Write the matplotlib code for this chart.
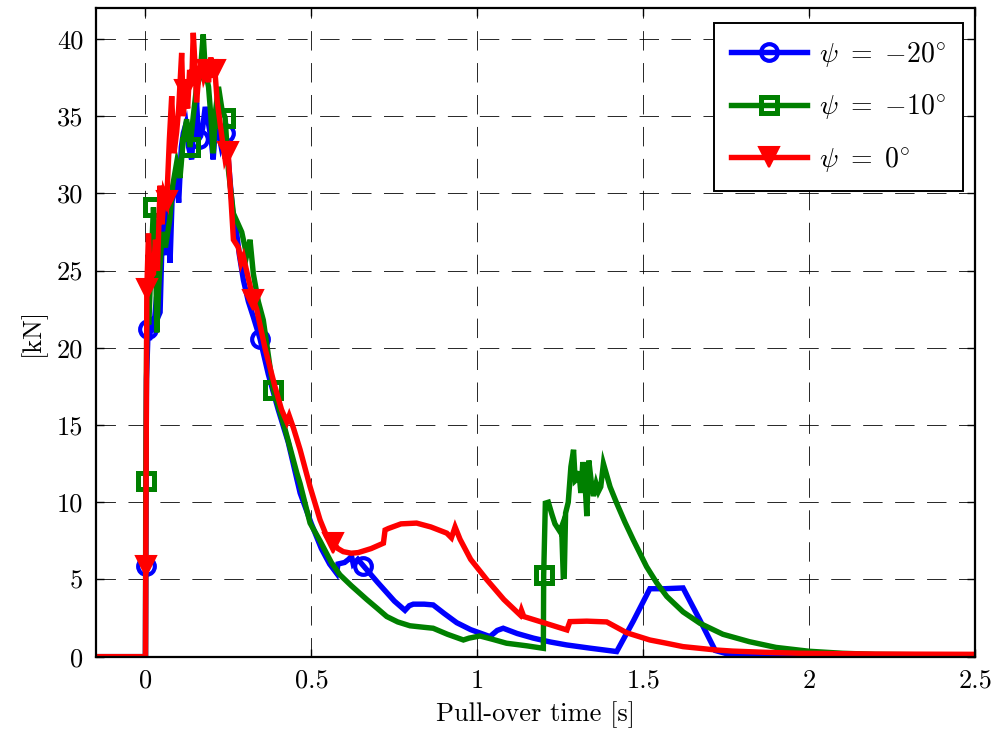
import numpy as np
import matplotlib
matplotlib.use("Agg")
import matplotlib.pyplot as plt

plt.rcParams["font.family"] = "cmr10"
plt.rcParams["mathtext.fontset"] = "cm"
plt.rcParams["axes.formatter.use_mathtext"] = True
plt.rcParams["axes.unicode_minus"] = False
plt.rcParams["lines.scale_dashes"] = False

# ---- pull-over force histories ------------------------------------------
t_m20 = [-0.15, 0.0, 0.0008, 0.003, 0.008, 0.012, 0.018, 0.024, 0.03, 0.038, 0.044,
         0.05, 0.056, 0.062, 0.068, 0.074, 0.08, 0.088, 0.094, 0.1, 0.108, 0.114,
         0.122, 0.13, 0.139, 0.146, 0.154, 0.16, 0.166, 0.172, 0.18, 0.19, 0.198,
         0.204, 0.212, 0.22, 0.228, 0.24, 0.248, 0.258, 0.264, 0.272, 0.283, 0.295,
         0.31, 0.325, 0.345, 0.37, 0.4, 0.43, 0.466, 0.5, 0.53, 0.555, 0.576, 0.58,
         0.6, 0.612, 0.621, 0.626, 0.64, 0.656, 0.7, 0.75, 0.782, 0.795, 0.807,
         0.84, 0.867, 0.9, 0.938, 0.98, 1.038, 1.06, 1.078, 1.12, 1.169, 1.22,
         1.269, 1.34, 1.42, 1.47, 1.52, 1.565, 1.62, 1.67, 1.717, 1.75, 1.9, 2.2, 2.5]
f_m20 = [0.0, 0.0, 5.9, 18.0, 21.2, 20.5, 22.0, 21.0, 22.5, 22.0, 22.3,
         27.0, 28.5, 26.0, 29.0, 25.5, 29.5, 30.5, 31.1, 29.4, 33.0, 33.9,
         34.5, 33.0, 32.2, 34.5, 35.9, 33.5, 33.7, 34.2, 35.6, 34.5, 33.5,
         32.2, 34.8, 34.0, 33.05, 33.9, 32.6, 30.0, 28.5, 27.9, 26.0, 24.4,
         23.0, 22.0, 20.6, 18.3, 16.0, 13.9, 10.6, 8.6, 7.0, 6.0, 5.4, 6.0,
         6.1, 6.3, 6.5, 6.0, 6.3, 5.9, 4.8, 3.6, 3.0, 3.3, 3.4,
         3.4, 3.35, 2.8, 2.2, 1.75, 1.3, 1.7, 1.84, 1.5, 1.2, 0.95,
         0.76, 0.55, 0.33, 2.3, 4.4, 4.4, 4.45, 2.4, 0.4, 0.2, 0.12, 0.1, 0.1]

t_m10 = [-0.15, 0.0, 0.0008, 0.004, 0.01, 0.016, 0.024, 0.03, 0.034, 0.04, 0.05,
         0.06, 0.073, 0.082, 0.094, 0.104, 0.114, 0.124, 0.134, 0.144, 0.154,
         0.164, 0.174, 0.18, 0.19, 0.197, 0.204, 0.212, 0.22, 0.23, 0.24, 0.25,
         0.265, 0.29, 0.305, 0.315, 0.325, 0.34, 0.355, 0.385, 0.421, 0.456,
         0.466, 0.496, 0.526, 0.56, 0.586, 0.62, 0.667, 0.7, 0.727, 0.76, 0.797,
         0.84, 0.867, 0.91, 0.958, 0.975, 1.008, 1.05, 1.088, 1.15, 1.199, 1.2,
         1.205, 1.214, 1.225, 1.234, 1.249, 1.254, 1.259, 1.262, 1.266, 1.274,
         1.282, 1.29, 1.295, 1.3, 1.306, 1.312, 1.318, 1.325, 1.33, 1.336, 1.343,
         1.35, 1.358, 1.365, 1.372, 1.38, 1.4, 1.42, 1.445, 1.47, 1.51, 1.54,
         1.571, 1.62, 1.671, 1.74, 1.82, 1.9, 2.0, 2.1, 2.2, 2.35, 2.5]
f_m10 = [0.0, 0.0, 11.4, 22.0, 21.5, 25.0, 29.1, 27.0, 21.0, 24.0, 27.5,
         26.5, 28.3, 30.5, 32.0, 31.0, 33.5, 34.8, 33.0, 35.0, 36.9,
         37.5, 40.3, 38.0, 36.9, 35.0, 32.6, 35.5, 36.9, 35.5, 34.9, 31.5,
         28.7, 27.5, 26.0, 27.0, 24.8, 23.0, 21.8, 17.3, 14.7, 11.9,
         11.2, 8.65, 7.5, 6.1, 5.3, 4.6, 3.7, 3.1, 2.6, 2.25, 2.0,
         1.9, 1.84, 1.45, 1.08, 1.2, 1.34, 1.1, 0.87, 0.7, 0.54, 5.3,
         9.94, 10.0, 9.2, 8.6, 8.1, 8.4, 5.2, 5.2, 9.3, 10.0,
         12.3, 13.4, 11.4, 11.5, 12.0, 10.6, 12.6, 11.1, 9.1, 12.7, 11.4,
         10.4, 11.2, 10.7, 11.0, 12.5, 11.0, 9.94, 8.7, 7.56, 5.83, 4.8,
         3.9, 2.9, 2.16, 1.45, 0.97, 0.6, 0.35, 0.22, 0.15, 0.12, 0.12]

t_0 = [-0.15, 0.0, 0.0008, 0.004, 0.009, 0.014, 0.024, 0.03, 0.036, 0.044, 0.05,
       0.056, 0.064, 0.072, 0.079, 0.086, 0.094, 0.1, 0.109, 0.114, 0.12, 0.127,
       0.133, 0.139, 0.144, 0.15, 0.154, 0.16, 0.168, 0.176, 0.184, 0.19, 0.197,
       0.203, 0.209, 0.216, 0.23, 0.24, 0.249, 0.258, 0.265, 0.28, 0.288, 0.295,
       0.31, 0.325, 0.335, 0.36, 0.39, 0.41, 0.426, 0.433, 0.446, 0.466, 0.496,
       0.526, 0.546, 0.566, 0.58, 0.596, 0.62, 0.641, 0.68, 0.717, 0.722, 0.732,
       0.77, 0.817, 0.86, 0.908, 0.922, 0.933, 0.948, 0.98, 1.028, 1.08, 1.129,
       1.133, 1.14, 1.2, 1.27, 1.279, 1.33, 1.39, 1.45, 1.52, 1.57, 1.62, 1.72,
       1.77, 1.87, 1.97, 2.2, 2.5]
f_0 = [0.0, 0.0, 5.9, 23.8, 27.4, 24.5, 24.8, 27.0, 25.0, 30.5, 28.0,
       30.0, 29.5, 33.5, 36.3, 32.6, 34.0, 35.5, 39.1, 35.0, 36.7, 35.5,
       38.0, 37.0, 40.4, 38.0, 35.9, 37.5, 38.5, 37.5, 38.0, 37.2, 38.8,
       37.5, 38.0, 36.0, 33.7, 32.2, 32.7, 29.5, 27.0, 26.5, 25.5, 25.9,
       24.5, 23.1, 22.5, 20.0, 17.5, 16.0, 15.2, 15.6, 14.8, 13.4, 11.0,
       8.86, 7.8, 7.35, 7.0, 6.8, 6.7, 6.74, 7.0, 7.35, 8.2, 8.3,
       8.6, 8.65, 8.4, 8.0, 7.7, 8.4, 7.6, 6.3, 5.0, 3.7, 2.7,
       3.0, 2.6, 2.2, 1.73, 2.27, 2.3, 2.25, 1.55, 1.08, 0.87, 0.65, 0.43,
       0.36, 0.28, 0.22, 0.17, 0.15]

# times at which the series symbols are placed
mark_m20 = [0.0008, 0.008, 0.16, 0.24, 0.345, 0.656]
mark_m10 = [0.0008, 0.024, 0.134, 0.24, 0.385, 1.2]
mark_0 = [0.0008, 0.004, 0.064, 0.12, 0.184, 0.209, 0.249, 0.325, 0.566]

labels = [r"$\psi\ =\ {-}20^{\circ}$", r"$\psi\ =\ {-}10^{\circ}$", r"$\psi\ =\ 0^{\circ}$"]
x_ticks = [0, 0.5, 1, 1.5, 2, 2.5]
x_ticklabels = ["0", "0.5", "1", "1.5", "2", "2.5"]
y_ticks = [0, 5, 10, 15, 20, 25, 30, 35, 40]


def mark_idx(t, tm):
    t = np.asarray(t)
    return [int(np.argmin(np.abs(t - v))) for v in tm]


fig = plt.figure(figsize=(9.97, 7.37), dpi=100)
ax = fig.add_axes([0.096, 0.109, 0.882, 0.880])

lw = 3.9
ax.plot(t_m20, f_m20, color=(0, 0, 1), lw=lw, marker="o", ms=12, mew=3.0,
        mfc="none", mec=(0, 0, 1), markevery=mark_idx(t_m20, mark_m20),
        label=labels[0], solid_joinstyle="miter")
ax.plot(t_m10, f_m10, color=(0, 0.5, 0), lw=lw, marker="s", ms=11, mew=3.6,
        mfc="none", mec=(0, 0.5, 0), markevery=mark_idx(t_m10, mark_m10),
        label=labels[1], solid_joinstyle="miter")
ax.plot(t_0, f_0, color=(1, 0, 0), lw=lw, marker="v", ms=15, mew=1.5,
        mfc=(1, 0, 0), mec=(1, 0, 0), markevery=mark_idx(t_0, mark_0),
        label=labels[2], solid_joinstyle="miter")

ax.set_xlim(-0.15, 2.5)
ax.set_ylim(0, 42)
ax.set_xticks(x_ticks)
ax.set_xticklabels(x_ticklabels)
ax.set_yticks(y_ticks)
ax.set_yticklabels([str(v) for v in y_ticks])

ax.grid(True, color="k", linestyle=(0, (14, 9)), linewidth=0.7, alpha=0.85)
ax.set_axisbelow(True)
ax.tick_params(direction="in", length=6, width=1.0, top=True, right=True,
               labelsize=19, pad=9)
for s in ax.spines.values():
    s.set_linewidth(1.6)
    s.set_color("k")

ax.set_xlabel("Pull-over time [s]", fontsize=19, labelpad=6)
ax.set_ylabel("[kN]", fontsize=19, labelpad=8)

leg = ax.legend(loc="upper right", bbox_to_anchor=(963 / 997, 1 - 23 / 737),
                bbox_transform=fig.transFigure, borderaxespad=0,
                fontsize=20, handlelength=2.75, borderpad=0.6,
                labelspacing=0.85, handletextpad=0.45, fancybox=False,
                framealpha=1)
leg.get_frame().set_edgecolor("k")
leg.get_frame().set_linewidth(1.4)

fig.savefig("out.png", dpi=100)
